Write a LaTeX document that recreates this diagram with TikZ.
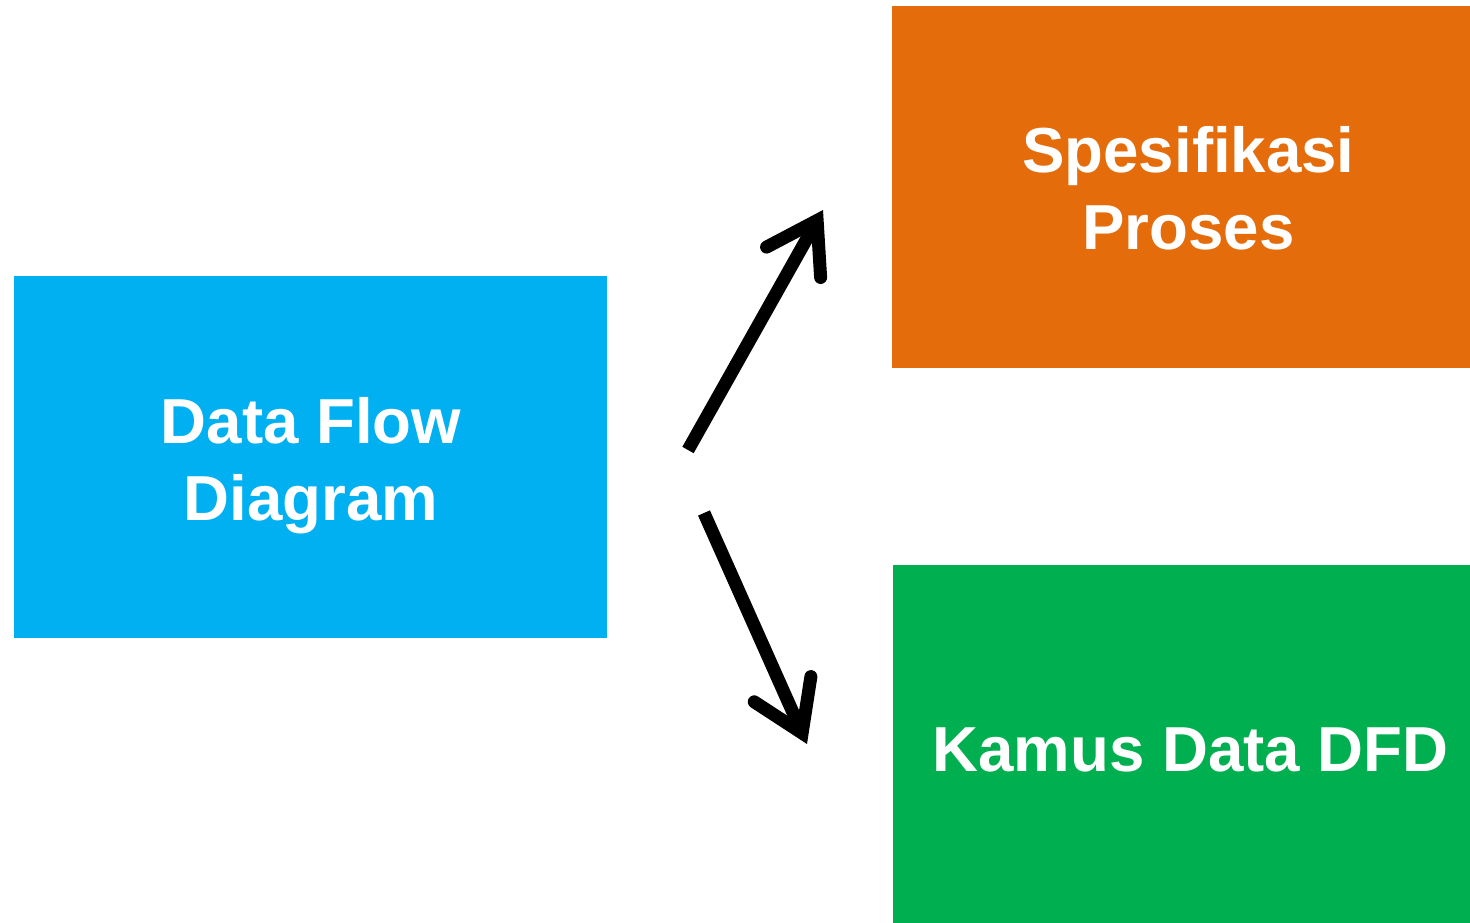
\documentclass[tikz,border=0pt]{standalone}
\usepackage{fontspec}
\setmainfont{Liberation Sans}
\usetikzlibrary{arrows.meta}
\definecolor{dfdblue}{HTML}{00B0F0}
\definecolor{dfdorange}{HTML}{E46C0A}
\definecolor{dfdgreen}{HTML}{00B050}
\tikzset{
  box/.style={rectangle, inner sep=0pt},
  label/.style={inner sep=0pt, text=white, align=center,
    font=\bfseries\fontsize{63.6}{77}\selectfont},
  flow/.style={line width=13pt, line cap=butt,
    -{Straight Barb[length=48pt, width=62pt, line cap=round, line join=miter]}}
}
\begin{document}
\begin{tikzpicture}[x=1pt, y=-1pt]
\useasboundingbox (0,0) rectangle (1470,923);
\node[box, fill=dfdblue, minimum width=593pt, minimum height=362pt] (dfd) at (310.5,457) {};
\node[box, fill=dfdorange, minimum width=578pt, minimum height=362pt] (spec) at (1181,187) {};
\node[box, fill=dfdgreen, minimum width=577pt, minimum height=358pt] (kamus) at (1181.5,744) {};
\node[label] (dfdt) at ([shift={(0.5,9)}]dfd.center) {Data Flow\\Diagram};
\node[label] (spect) at ([shift={(7.5,1)}]spec.center) {Spesifikasi\\Proses};
\node[label] (kamust) at ([shift={(9,6)}]kamus.center) {Kamus Data DFD};
\coordinate (a1s) at (688,450);
\coordinate (a1e) at (823,210);
\coordinate (a2s) at (704,513);
\coordinate (a2e) at (807,744);
\draw[flow] (a1s) -- (a1e);
\draw[flow] (a2s) -- (a2e);
\end{tikzpicture}
\end{document}
